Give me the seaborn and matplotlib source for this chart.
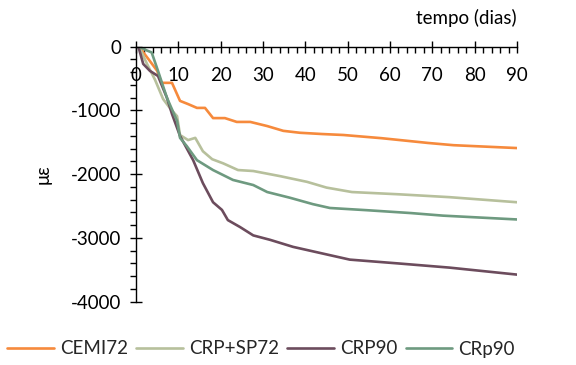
import matplotlib
matplotlib.use("Agg")
import matplotlib.pyplot as plt
import seaborn as sns
import pandas as pd
import numpy as np
from matplotlib.ticker import MultipleLocator

sns.set_theme(style="white")
plt.rcParams['font.family'] = ['Lato', 'DejaVu Sans']
plt.rcParams['axes.unicode_minus'] = False

series_names = ["CEMI72", "CRP+SP72", "CRP90", "CRp90"]
colors = ["#F68A3C", "#B7C09C", "#6C4C5D", "#6E9A80"]

cemi72_days = [0.7, 3, 5, 6, 8.5, 10.4, 12.3, 14.4, 16.3, 18.2, 21, 23.8, 27, 31, 34.8, 38.7, 44, 49, 58, 69, 75, 90]
cemi72_vals = [0, -200, -378, -567, -567, -850, -900, -960, -960, -1120, -1120, -1180, -1180, -1245, -1320, -1350, -1370, -1385, -1435, -1510, -1545, -1590]

crpsp72_days = [0.7, 2.6, 4.5, 6.4, 8.2, 9.7, 10.4, 12.3, 14, 15.8, 18, 20.6, 24.1, 27.7, 34, 40.4, 45, 51, 62, 74, 90]
crpsp72_vals = [0, -270, -520, -820, -980, -1090, -1385, -1465, -1430, -1640, -1765, -1830, -1935, -1950, -2030, -2120, -2210, -2280, -2315, -2360, -2440]

crp90_days = [0.7, 1.7, 3.3, 5.2, 6, 7.3, 8.5, 10.4, 13.5, 15.8, 18.2, 20.3, 21.7, 24.6, 27.7, 31.7, 37.1, 45.8, 50.5, 62, 74, 90]
crp90_vals = [-30, -270, -380, -460, -590, -800, -1055, -1400, -1780, -2140, -2440, -2560, -2720, -2830, -2960, -3030, -3140, -3270, -3340, -3400, -3465, -3575]

crp90b_days = [0.7, 2.6, 3.7, 5.2, 7.3, 9.7, 10.4, 12, 14.4, 18.2, 22.9, 27.7, 31, 36.4, 41.8, 45.8, 54.6, 65, 72.5, 90]
crp90b_vals = [0, -60, -90, -380, -800, -1165, -1430, -1560, -1780, -1935, -2090, -2170, -2280, -2370, -2470, -2530, -2565, -2610, -2650, -2710]

frames = []
for name, d, v in zip(series_names,
                      [cemi72_days, crpsp72_days, crp90_days, crp90b_days],
                      [cemi72_vals, crpsp72_vals, crp90_vals, crp90b_vals]):
    frames.append(pd.DataFrame({"dias": d, "ue": v, "serie": name}))
df = pd.concat(frames, ignore_index=True)

fig = plt.figure(figsize=(5.76, 3.65), dpi=100)
ax = fig.add_axes([136/576, 1-301.7/365, (517-136)/576, (301.7-46.7)/365])

sns.lineplot(data=df, x="dias", y="ue", hue="serie", hue_order=series_names,
             palette=colors, linewidth=1.9, ax=ax, sort=True, legend=True)

ax.set_xlim(0, 90)
ax.set_ylim(-4000, 0)
ax.spines['top'].set_visible(False)
ax.spines['right'].set_visible(False)
ax.spines['bottom'].set_position(('data', 0))
for s in ['left', 'bottom']:
    ax.spines[s].set_color('black')
    ax.spines[s].set_linewidth(1.0)
ax.xaxis.set_major_locator(MultipleLocator(10))
ax.xaxis.set_minor_locator(MultipleLocator(2))
ax.yaxis.set_major_locator(MultipleLocator(1000))
ax.yaxis.set_minor_locator(MultipleLocator(200))
ax.tick_params(axis='both', which='both', bottom=True, left=True, top=False, right=False)
ax.tick_params(axis='both', which='major', direction='inout', length=9, width=1.0,
               color='black', labelsize=13.5, labelcolor='black')
ax.tick_params(axis='y', which='minor', direction='out', length=4, width=1.0, color='black')
ax.tick_params(axis='x', which='minor', direction='out', length=4, width=1.0, color='black')
ax.tick_params(axis='x', which='major', pad=10)
ax.tick_params(axis='y', which='major', pad=6)
ax.set_xlabel("")
ax.set_ylabel("με", fontsize=13.5, color='black', labelpad=14)
ax.grid(False)

fig.text(517/576, 1-18/365, "tempo (dias)", ha='right', va='center', fontsize=13.5, color='black')

handles, labels = ax.get_legend_handles_labels()
ax.legend(handles, labels, loc='center', bbox_to_anchor=(261/576, 1-349/365),
          bbox_transform=fig.transFigure, ncol=4, frameon=False, fontsize=13.5,
          handlelength=2.5, handletextpad=0.3, columnspacing=0.45)

fig.savefig("out.png", dpi=100)
